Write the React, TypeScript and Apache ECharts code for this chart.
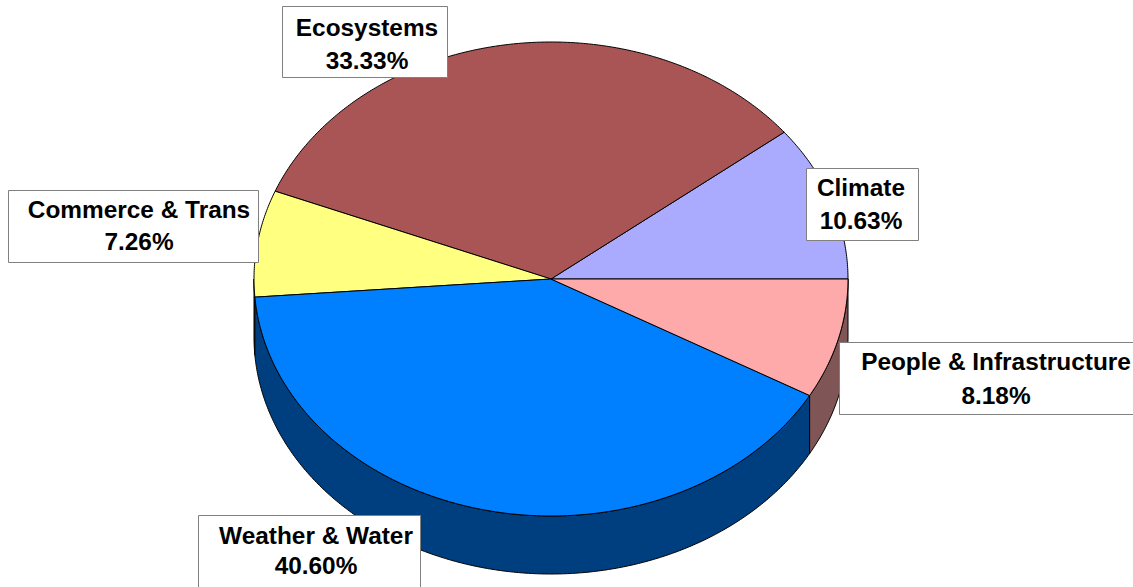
import React, { useEffect, useRef } from "react";
import * as echarts from "echarts";

// ---- data ----
const categories = ["Climate", "Ecosystems", "Commerce & Trans", "Weather & Water", "People & Infrastructure"];
const shares = [10.63, 33.33, 7.26, 40.6, 8.18];

// ---- styles ----
const topColors = ["#aaaaff", "#aa5555", "#ffff80", "#0080ff", "#ffaaaa"];
const sideColors = ["#55557f", "#552a2a", "#80803f", "#003f7f", "#805555"];

// ---- layout ----
const CX = 551;
const CY = 279;
const RX = 297;
const RY = 237;
const DEPTH = 58;
const FONT = 'bold 24.4px "Liberation Sans", Arial, sans-serif';

const labelBoxes = [
  { x: 806, y: 168, w: 112, h: 72, tx: 861, ty1: 187, ty2: 220 },
  { x: 282, y: 6, w: 165, h: 71, tx: 367, ty1: 27, ty2: 60 },
  { x: 8, y: 190, w: 250, h: 72, tx: 139, ty1: 209, ty2: 241 },
  { x: 198, y: 515, w: 222, h: 80, tx: 316, ty1: 535, ty2: 565 },
  { x: 839, y: 342, w: 300, h: 72, tx: 996, ty1: 361, ty2: 395 },
];

const total = shares.reduce((a, b) => a + b, 0);
const DEG = Math.PI / 180;

function arcPts(a0: number, a1: number, dy: number) {
  const pts: number[][] = [];
  const n = Math.max(2, Math.ceil(Math.abs(a1 - a0) / 0.5));
  for (let i = 0; i <= n; i++) {
    const a = a0 + ((a1 - a0) * i) / n;
    pts.push([CX + RX * Math.cos(a * DEG), CY - RY * Math.sin(a * DEG) + dy]);
  }
  return pts;
}

function sliceAngles(idx: number) {
  let before = 0;
  for (let i = 0; i < idx; i++) before += shares[i];
  const a0 = (before / total) * 360;
  const a1 = ((before + shares[idx]) / total) * 360;
  return [a0, a1];
}

export default function App() {
  const ref = useRef<HTMLDivElement>(null);
  useEffect(() => {
    if (!ref.current) return;
    const chart = echarts.init(ref.current, undefined, { renderer: "svg" });
    const data = shares.map((v, i) => ({ name: categories[i], value: v }));
    chart.setOption({
      animation: false,
      backgroundColor: "#ffffff",
      series: [
        {
          type: "custom",
          coordinateSystem: "none",
          silent: true,
          z: 2,
          data,
          renderItem: (params: any) => {
            const i = params.dataIndex;
            const [a0, a1] = sliceAngles(i);
            const children: any[] = [];
            const s = Math.max(a0, 180);
            const e = Math.min(a1, 360);
            if (e > s) {
              children.push({
                type: "polygon",
                shape: { points: [...arcPts(s, e, 0), ...arcPts(e, s, DEPTH)] },
                style: { fill: sideColors[i], stroke: "#000", lineWidth: 1, lineJoin: "round" },
              });
            }
            children.push({
              type: "polygon",
              shape: { points: [[CX, CY], ...arcPts(a0, a1, 0)] },
              style: { fill: topColors[i], stroke: "#000", lineWidth: 1, lineJoin: "round" },
            });
            return { type: "group", children };
          },
        },
        {
          type: "custom",
          coordinateSystem: "none",
          silent: true,
          z: 10,
          data,
          renderItem: (params: any) => {
            const i = params.dataIndex;
            const b = labelBoxes[i];
            return {
              type: "group",
              children: [
                {
                  type: "rect",
                  shape: { x: b.x + 0.5, y: b.y + 0.5, width: b.w, height: b.h },
                  style: { fill: "#ffffff", stroke: "#808080", lineWidth: 1 },
                },
                {
                  type: "text",
                  x: b.tx,
                  y: b.ty1,
                  style: { text: categories[i], fill: "#000", font: FONT, align: "center", verticalAlign: "middle" },
                },
                {
                  type: "text",
                  x: b.tx,
                  y: b.ty2,
                  style: {
                    text: shares[i].toFixed(2) + "%",
                    fill: "#000",
                    font: FONT,
                    align: "center",
                    verticalAlign: "middle",
                  },
                },
              ],
            };
          },
        },
      ],
    });
    return () => chart.dispose();
  }, []);
  return (
    <div
      ref={ref}
      style={{ position: "fixed", left: 0, top: 0, width: 1133, height: 587, background: "#fff" }}
    />
  );
}
